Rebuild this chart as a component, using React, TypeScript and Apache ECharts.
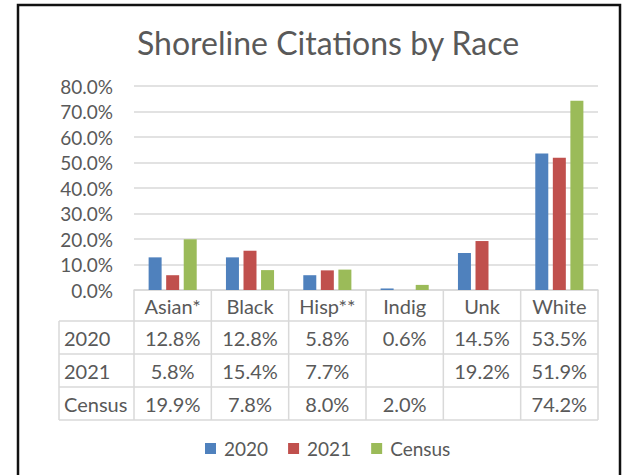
import React, { useEffect, useRef } from "react";
import * as echarts from "echarts";

const categories = ["Asian*", "Black", "Hisp**", "Indig", "Unk", "White"];
const seriesNames = ["2020", "2021", "Census"];
const values2020: (number | null)[] = [12.8, 12.8, 5.8, 0.6, 14.5, 53.5];
const values2021: (number | null)[] = [5.8, 15.4, 7.7, null, 19.2, 51.9];
const valuesCensus: (number | null)[] = [19.9, 7.8, 8.0, 2.0, null, 74.2];
const colors = ["#4F81BD", "#C0504D", "#9BBB59"];
const titleText = "Shoreline Citations by Race";

const FONT = "Lato, 'Open Sans', sans-serif";
const TEXT = "#595959";
const LINE = "#d9d9d9";

export default function App() {
  const ref = useRef<HTMLDivElement>(null);
  useEffect(() => {
    if (!ref.current) return;
    const chart = echarts.init(ref.current, undefined, { renderer: "svg" });
    const allSeries = [values2020, values2021, valuesCensus];
    chart.setOption({
      animation: false,
      backgroundColor: "#ffffff",
      title: {
        text: titleText,
        left: 132,
        top: 21,
        textStyle: { fontFamily: FONT, fontSize: 32, fontWeight: "normal", color: TEXT },
      },
      legend: {
        data: seriesNames,
        bottom: 12,
        left: 200,
        icon: "rect",
        itemWidth: 11,
        itemHeight: 11,
        itemGap: 20,
        textStyle: { fontFamily: FONT, fontSize: 19, color: TEXT, padding: [0, 0, 0, 3] },
      },
      grid: { left: 134, right: 29, top: 86, bottom: 185 },
      xAxis: {
        type: "category",
        data: categories,
        axisLine: { lineStyle: { color: LINE, width: 1.5 } },
        axisTick: { show: false },
        axisLabel: {
          fontFamily: FONT,
          fontSize: 20,
          color: TEXT,
          margin: 6,
          verticalAlign: "top",
        },
      },
      yAxis: {
        type: "value",
        min: 0,
        max: 80,
        interval: 10,
        axisLine: { show: false },
        axisTick: { show: false },
        splitLine: { lineStyle: { color: LINE, width: 1.5 } },
        axisLabel: {
          fontFamily: FONT,
          fontSize: 19,
          color: TEXT,
          margin: 21,
          formatter: (v: number) => v.toFixed(1) + "%",
        },
      },
      series: seriesNames.map((name, i) => ({
        name,
        type: "bar",
        data: allSeries[i],
        barWidth: 13,
        barGap: "35%",
        itemStyle: { color: colors[i] },
      })),
    });

    // Build data table under the axis, positioned from the chart's own scales
    const xs = categories.map((c) => chart.convertToPixel({ xAxisIndex: 0 }, c) as number);
    const colW = xs.length > 1 ? xs[1] - xs[0] : 77;
    const y0 = chart.convertToPixel({ yAxisIndex: 0 }, 0) as number;
    const left = xs[0] - colW / 2;
    const right = xs[xs.length - 1] + colW / 2;
    const headerH = 31;
    const rowH = 33;
    const labelLeft = 59;
    const tableTop = y0 + headerH;
    const tableBottom = tableTop + rowH * seriesNames.length;
    const g: any[] = [];
    const ls = { stroke: LINE, lineWidth: 1.5 };
    for (let i = 0; i <= categories.length; i++) {
      const x = left + i * colW;
      g.push({ type: "line", shape: { x1: x, y1: y0, x2: x, y2: tableBottom }, style: ls, silent: true });
    }
    g.push({ type: "line", shape: { x1: labelLeft, y1: tableTop, x2: labelLeft, y2: tableBottom }, style: ls, silent: true });
    for (let r = 0; r <= seriesNames.length; r++) {
      const y = tableTop + r * rowH;
      g.push({ type: "line", shape: { x1: labelLeft, y1: y, x2: right, y2: y }, style: ls, silent: true });
    }
    seriesNames.forEach((name, r) => {
      const cy = tableTop + r * rowH + rowH / 2;
      g.push({
        type: "text",
        x: labelLeft + 5,
        y: cy,
        style: { text: name, fontFamily: FONT, fontSize: 20, fill: TEXT, align: "left", verticalAlign: "middle" },
        silent: true,
      });
      allSeries[r].forEach((v, c) => {
        if (v === null || v === undefined) return;
        g.push({
          type: "text",
          x: xs[c],
          y: cy,
          style: {
            text: v.toFixed(1) + "%",
            fontFamily: FONT,
            fontSize: 20,
            fill: TEXT,
            align: "center",
            verticalAlign: "middle",
          },
          silent: true,
        });
      });
    });
    // outer frame
    g.push({
      type: "rect",
      shape: { x: 18, y: 5, width: 602, height: 480 },
      style: { fill: "none", stroke: "#111111", lineWidth: 2.5 },
      silent: true,
      z: 100,
    });
    chart.setOption({ graphic: g });
    return () => chart.dispose();
  }, []);
  return (
    <div
      ref={ref}
      style={{ position: "fixed", left: 0, top: 0, width: 627, height: 475, background: "#fff" }}
    />
  );
}
